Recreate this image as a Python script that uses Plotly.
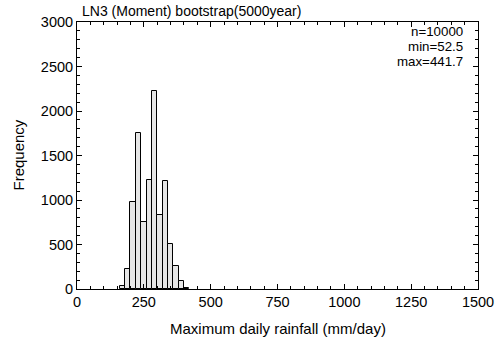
import plotly.graph_objects as go

bin_left = [160, 180, 200, 220, 240, 260, 280, 300, 320, 340, 360, 380, 400]
counts = [30, 224, 975, 1749, 751, 1222, 2223, 833, 1218, 508, 261, 85, 15]
bin_width = 20
x_ticks = [0, 250, 500, 750, 1000, 1250, 1500]
y_ticks = [0, 500, 1000, 1500, 2000, 2500, 3000]
title_text = "LN3 (Moment) bootstrap(5000year)"
stats_lines = ["n=10000", "min=52.5", "max=441.7"]
x_title = "Maximum daily rainfall (mm/day)"
y_title = "Frequency"

centers = [b + bin_width / 2 for b in bin_left]

fig = go.Figure(go.Bar(
    x=centers, y=counts, width=[bin_width] * len(centers),
    marker=dict(color="#e6e6e6", line=dict(color="black", width=1)),
))

font = "Liberation Sans, Arial, sans-serif"
tick_font = dict(family=font, size=14.5, color="black")
axis_common = dict(
    showline=True, linecolor="black", linewidth=1, mirror="allticks",
    ticks="inside", tickcolor="black", ticklen=5, tickwidth=1,
    showgrid=False, zeroline=False, tickfont=tick_font,
)

stats_html = "<br>".join(
    '<span style="font-size:13.3px">%s</span>' % s for s in stats_lines)

annotations = [
    dict(text=title_text, x=0, y=1, xref="paper", yref="paper",
         xanchor="left", yanchor="middle", showarrow=False, xshift=3, yshift=11,
         font=dict(family=font, size=14, color="black")),
    dict(text=x_title, x=0.5, y=0, xref="paper", yref="paper",
         xanchor="center", yanchor="middle", showarrow=False, yshift=-39,
         font=dict(family=font, size=15, color="black")),
    dict(text=y_title, x=0, y=0.5, xref="paper", yref="paper", textangle=-90,
         xanchor="center", yanchor="middle", showarrow=False, xshift=-59,
         font=dict(family=font, size=15, color="black")),
    dict(text=stats_html, x=1, y=1, xref="paper", yref="paper",
         xanchor="right", yanchor="middle", showarrow=False, align="right",
         xshift=-13, yshift=-24,
         font=dict(family=font, size=11.6, color="black")),
]

fig.update_layout(
    width=496, height=341, autosize=False,
    margin=dict(l=77, r=18, t=22, b=52, autoexpand=False),
    paper_bgcolor="white", plot_bgcolor="white",
    showlegend=False, bargap=0,
    font=dict(family=font, size=14, color="black"),
    xaxis=dict(range=[0, 1500], tickvals=x_ticks,
               minor=dict(dtick=50, ticks="inside", ticklen=3, tickcolor="black"),
               **axis_common),
    yaxis=dict(range=[0, 3000], tickvals=y_ticks,
               minor=dict(dtick=100, ticks="inside", ticklen=3, tickcolor="black"),
               **axis_common),
    annotations=annotations,
)
fig.write_html(
    "out.html",
    config={"responsive": False},
    post_script="document.body.style.margin='0';document.body.style.overflow='hidden';",
)
